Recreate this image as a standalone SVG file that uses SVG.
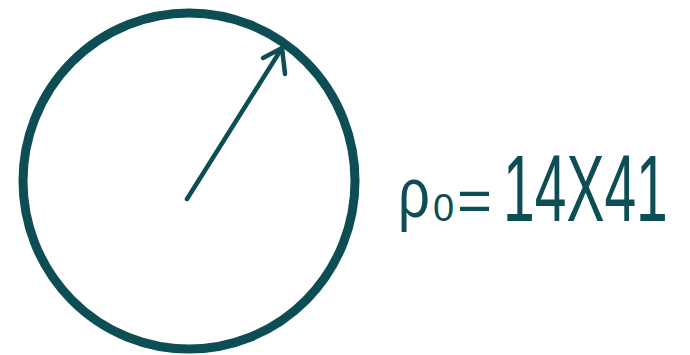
<svg xmlns="http://www.w3.org/2000/svg" width="690" height="355" viewBox="0 0 690 355">
  <style>
    .ink { fill: none; stroke: #0d4e54; stroke-linecap: round; stroke-linejoin: round; }
    .lbl { fill: #0d4e54; font-family: "Liberation Sans", Arial, sans-serif; }
  </style>
  <rect width="690" height="355" fill="#ffffff"/>
  <g id="circle">
    <ellipse class="ink" cx="189" cy="181" rx="166" ry="168" stroke-width="9"/>
  </g>
  <g id="connectors">
    <path class="ink" stroke-width="4.5" d="M187 199 L282 48"/>
    <path class="ink" stroke-width="4.5" d="M263 58 L282 48 L285 74"/>
  </g>
  <g id="label">
    <text class="lbl" transform="translate(398,217) scale(0.8,1)" font-size="70">ρ</text>
    <text class="lbl" x="433" y="221" font-size="38">0</text>
    <text class="lbl" x="457" y="221" font-size="60">=</text>
    <text class="lbl" transform="translate(503,221) scale(0.6,1)" font-size="95">14X41</text>
  </g>
</svg>
